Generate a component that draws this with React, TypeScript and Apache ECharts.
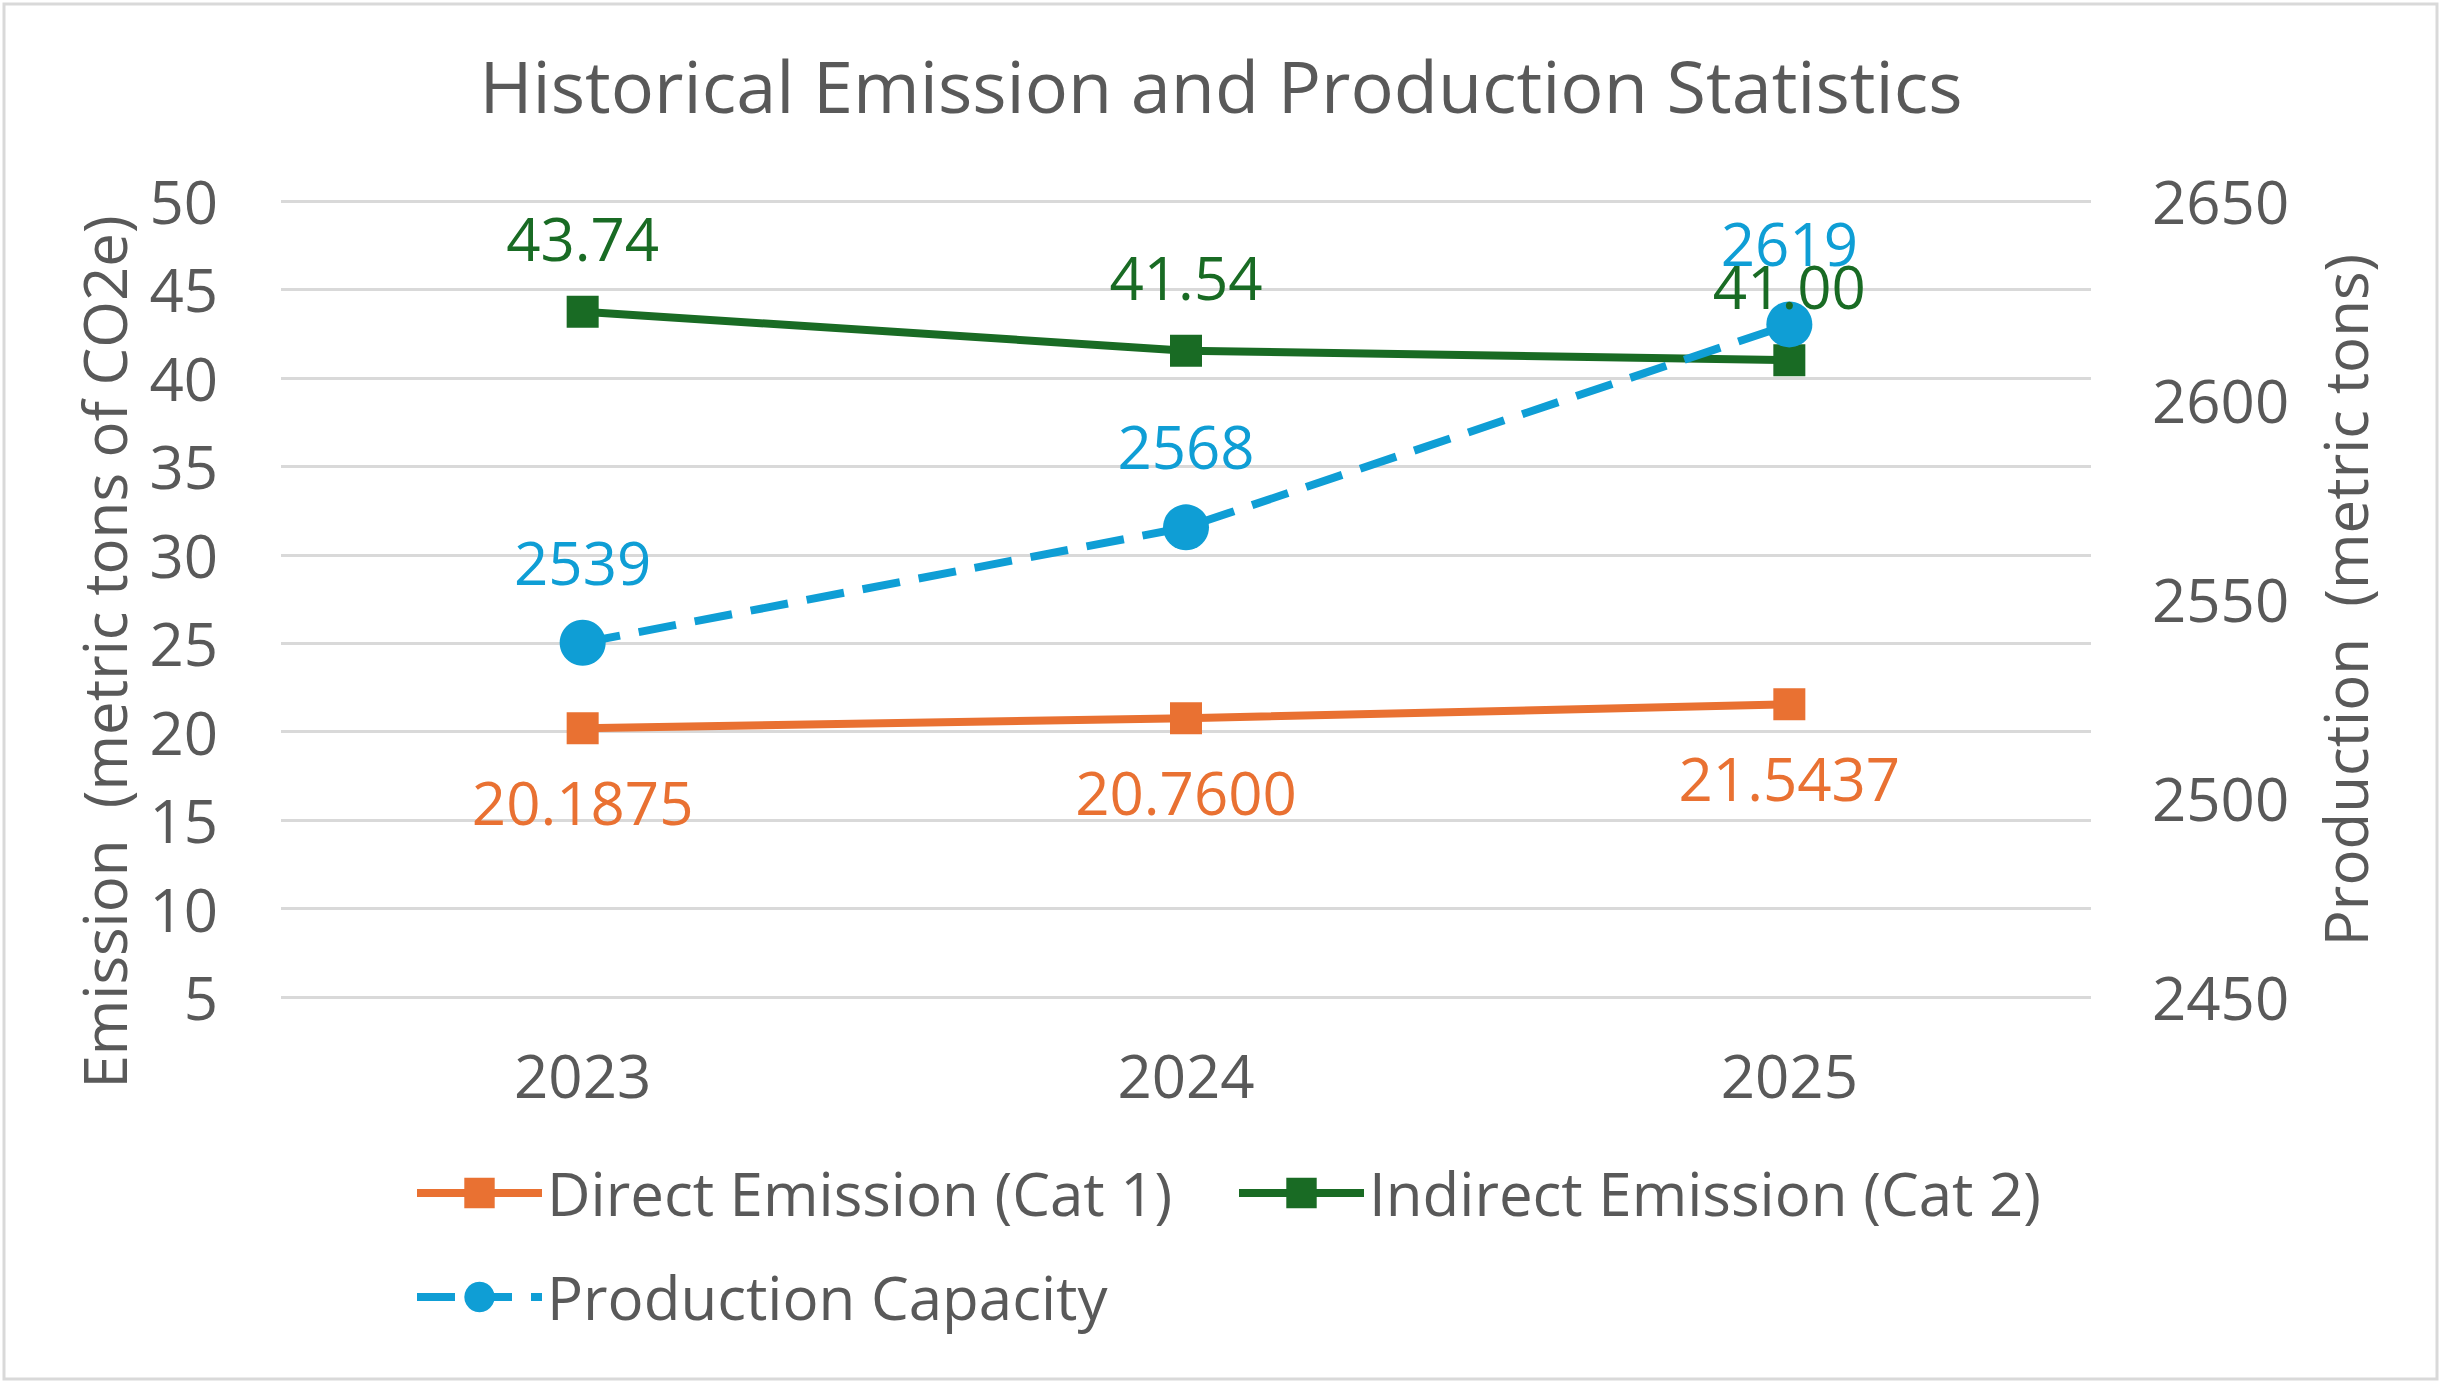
import React, { useEffect, useRef } from "react";
import * as echarts from "echarts";

const years = ["2023", "2024", "2025"];
const directEmission = [20.1875, 20.76, 21.5437];
const indirectEmission = [43.74, 41.54, 41.0];
const productionCapacity = [2539, 2568, 2619];
const emissionAxisTicks = { min: 5, max: 50, interval: 5 };
const productionAxisTicks = { min: 2450, max: 2650, interval: 50 };

const seriesNames = ["Direct Emission (Cat 1)", "Indirect Emission (Cat 2)", "Production Capacity"];
const titleText = "Historical Emission and Production Statistics";
const leftAxisTitle = "Emission  (metric tons of CO2e)";
const rightAxisTitle = "Production  (metric tons)";

const ORANGE = "#E97132";
const GREEN = "#196B24";
const BLUE = "#0F9ED5";
const GRAY = "#595959";
const FONT = "'Open Sans', 'Liberation Sans', sans-serif";
const FS = 60;
const LW = 8;

export default function App() {
  const ref = useRef<HTMLDivElement>(null);
  useEffect(() => {
    document.body.style.margin = "0";
    const chart = echarts.init(ref.current!, null, { renderer: "svg" });
    const legendCommon = {
      padding: 0,
      itemWidth: 125,
      itemHeight: 38,
      itemGap: 0,
      textStyle: { fontSize: FS, color: GRAY, fontFamily: FONT },
    };
    chart.setOption({
      animation: false,
      backgroundColor: "#ffffff",
      title: {
        text: titleText,
        left: "center",
        top: 44,
        textStyle: { fontSize: 72, fontWeight: "normal", color: GRAY, fontFamily: FONT },
      },
      legend: [
        { ...legendCommon, data: [seriesNames[0]], left: 413, top: 1163, lineStyle: { width: LW } },
        { ...legendCommon, data: [seriesNames[1]], left: 1235, top: 1163, lineStyle: { width: LW } },
        { ...legendCommon, data: [seriesNames[2]], left: 413, top: 1267, lineStyle: { width: LW } },
      ],
      grid: { left: 281, right: 351, top: 201, bottom: 387, containLabel: false },
      xAxis: {
        type: "category",
        data: years,
        boundaryGap: true,
        axisLine: { show: false },
        axisTick: { show: false },
        axisLabel: { fontSize: FS, color: GRAY, fontFamily: FONT, margin: 48 },
      },
      yAxis: [
        {
          type: "value",
          ...emissionAxisTicks,
          position: "left",
          axisLine: { show: false },
          axisTick: { show: false },
          splitLine: { lineStyle: { color: "#D9D9D9", width: 3 } },
          axisLabel: { fontSize: FS, color: GRAY, fontFamily: FONT, margin: 63 },
        },
        {
          type: "value",
          ...productionAxisTicks,
          position: "right",
          axisLine: { show: false },
          axisTick: { show: false },
          splitLine: { show: false },
          axisLabel: {
            fontSize: FS,
            color: GRAY,
            fontFamily: FONT,
            margin: 61,
            formatter: (v: number) => String(v),
          },
        },
      ],
      graphic: [
        {
          type: "rect",
          shape: { x: 4, y: 4, width: 2433, height: 1375 },
          style: { fill: "none", stroke: "#D9D9D9", lineWidth: 3 },
          silent: true,
        },
        {
          type: "text",
          x: 104,
          y: 652,
          rotation: Math.PI / 2,
          style: {
            text: leftAxisTitle,
            fontSize: FS,
            fill: GRAY,
            fontFamily: FONT,
            align: "center",
            verticalAlign: "middle",
          },
        },
        {
          type: "text",
          x: 2345,
          y: 600,
          rotation: Math.PI / 2,
          style: {
            text: rightAxisTitle,
            fontSize: FS,
            fill: GRAY,
            fontFamily: FONT,
            align: "center",
            verticalAlign: "middle",
          },
        },
      ],
      series: [
        {
          name: seriesNames[0],
          type: "line",
          yAxisIndex: 0,
          data: directEmission,
          symbol: "rect",
          symbolSize: 32,
          lineStyle: { color: ORANGE, width: LW },
          itemStyle: { color: ORANGE },
          label: {
            show: true,
            position: "bottom",
            distance: 28,
            color: ORANGE,
            fontSize: FS,
            fontFamily: FONT,
            formatter: (p: any) => Number(p.value).toFixed(4),
          },
        },
        {
          name: seriesNames[1],
          type: "line",
          yAxisIndex: 0,
          data: indirectEmission,
          symbol: "rect",
          symbolSize: 32,
          lineStyle: { color: GREEN, width: LW },
          itemStyle: { color: GREEN },
          label: {
            show: true,
            position: "top",
            distance: 28,
            color: GREEN,
            fontSize: FS,
            fontFamily: FONT,
            formatter: (p: any) => Number(p.value).toFixed(2),
          },
        },
        {
          name: seriesNames[2],
          type: "line",
          yAxisIndex: 1,
          data: productionCapacity,
          symbol: "circle",
          symbolSize: 46,
          lineStyle: { color: BLUE, width: LW, type: [38, 19] },
          itemStyle: { color: BLUE },
          label: {
            show: true,
            position: "top",
            distance: 28,
            color: BLUE,
            fontSize: FS,
            fontFamily: FONT,
            formatter: (p: any) => String(p.value),
          },
        },
      ],
    });
    return () => chart.dispose();
  }, []);
  return <div ref={ref} style={{ width: 2442, height: 1384 }} />;
}
